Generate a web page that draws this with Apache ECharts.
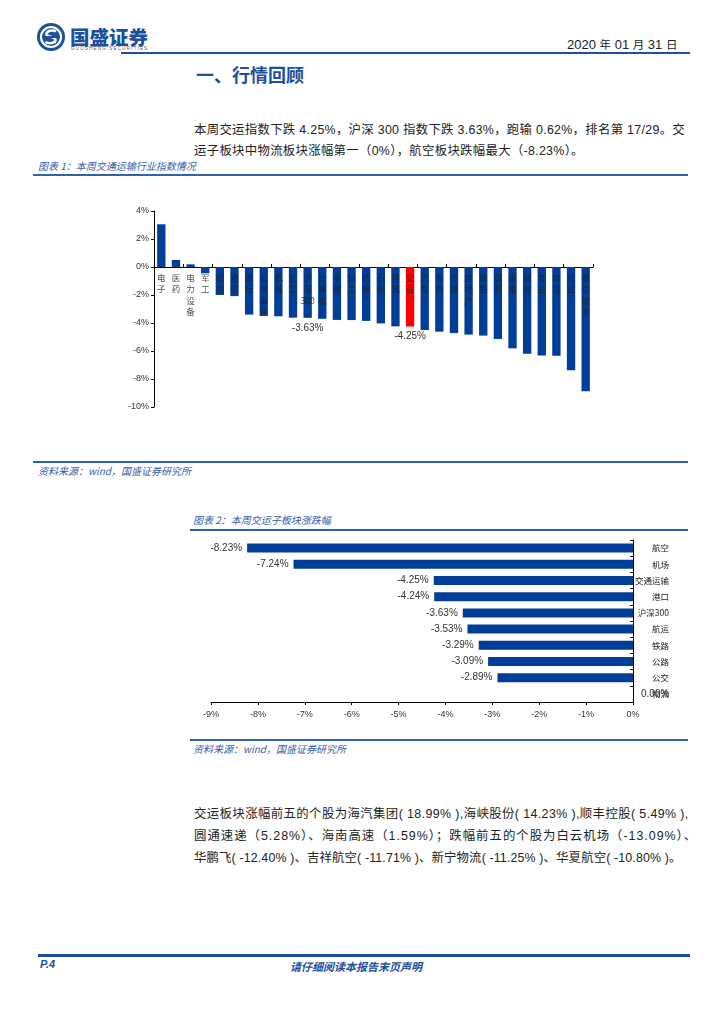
<!DOCTYPE html>
<html>
<head>
<meta charset="utf-8">
<script src="https://cdn.jsdelivr.net/npm/echarts@6/dist/echarts.min.js"></script>
<style>
  html, body { margin: 0; padding: 0; background: #fff; }
  body { width: 724px; height: 1024px; position: relative; overflow: hidden;
         font-family: "Liberation Sans", "Noto Sans CJK SC", sans-serif; color: #222; }
  .abs { position: absolute; white-space: nowrap; }
  .hline { position: absolute; background: #2f63b0; }
  .cap { font-family: "Noto Sans CJK SC", sans-serif; font-style: italic; color: #3660a8; font-size: 10px; }
  .para { font-family: "Liberation Sans", "Noto Sans CJK SC", sans-serif; font-size: 12.4px; color: #222; }
</style>
</head>
<body>
<!-- header -->
<svg class="abs" style="left:36px;top:22px" width="30" height="30" viewBox="0 0 30 30">
  <circle cx="15" cy="15" r="14" fill="#1d4f9e"/>
  <circle cx="15" cy="15" r="10" fill="none" stroke="#fff" stroke-width="2.2"/>
  <path d="M20 9.5 C17 7.5 10 8.5 10.5 12.5 C11 15.5 19.5 14 19.5 18 C19.5 21.5 12.5 22 9.5 20" fill="none" stroke="#fff" stroke-width="2.6"/>
  <rect x="6" y="14" width="18" height="2" fill="#1d4f9e"/>
</svg>
<div class="abs" style="left:70px;top:22px;font-family:'Noto Sans CJK SC';font-weight:900;font-size:19.5px;color:#1d4f9e;">国盛证券</div>
<div class="abs" style="left:71px;top:46px;font-size:4.5px;color:#555;letter-spacing:1.2px;">GUOSHENG SECURITIES</div>
<div class="abs" style="left:567px;top:36px;font-size:13px;color:#222;font-family:'Liberation Sans','Noto Sans CJK SC';">2020 <span style="font-size:11.5px">年</span> 01 <span style="font-size:11.5px">月</span> 31 <span style="font-size:11.5px">日</span></div>
<div class="hline" style="left:121px;top:52px;width:569px;height:2px;background:#1d4f9e;"></div>
<div class="abs" style="left:196px;top:61px;font-family:'Noto Sans CJK SC';font-weight:700;font-size:18px;color:#1d4f9e;">一、行情回顾</div>

<!-- paragraph 1 -->
<div class="abs para" style="left:194px;top:120px;letter-spacing:0.3px;">本周交运指数下跌 4.25%，沪深 300 指数下跌 3.63%，跑输 0.62%，排名第 17/29。交</div>
<div class="abs para" style="left:194px;top:141px;letter-spacing:0.3px;">运子板块中物流板块涨幅第一（0%），航空板块跌幅最大（-8.23%）。</div>

<div class="abs cap" style="left:38px;top:158px;">图表 1：本周交通运输行业指数情况</div>
<div class="hline" style="left:33px;top:174px;width:655px;height:1.5px;"></div>

<div id="c1" class="abs" style="left:0;top:190px;width:724px;height:240px;"></div>

<div class="hline" style="left:33px;top:461px;width:655px;height:1.5px;"></div>
<div class="abs cap" style="left:38px;top:463px;">资料来源：wind，国盛证券研究所</div>

<div class="abs cap" style="left:193px;top:512px;">图表 2：本周交运子板块涨跌幅</div>
<div class="hline" style="left:190px;top:529px;width:498px;height:1.5px;"></div>

<div id="c2" class="abs" style="left:0;top:530px;width:724px;height:200px;"></div>

<div class="hline" style="left:190px;top:739px;width:498px;height:1.5px;"></div>
<div class="abs cap" style="left:193px;top:741px;">资料来源：wind，国盛证券研究所</div>

<!-- paragraph 2 -->
<div class="abs para" style="left:194px;top:804px;letter-spacing:0.4px;">交运板块涨幅前五的个股为海汽集团( 18.99% ),海峡股份( 14.23% ),顺丰控股( 5.49% ),</div>
<div class="abs para" style="left:194px;top:826px;letter-spacing:1.0px;">圆通速递（5.28%）、海南高速（1.59%）；跌幅前五的个股为白云机场（-13.09%）、</div>
<div class="abs para" style="left:194px;top:848px;letter-spacing:0.14px;">华鹏飞( -12.40% )、吉祥航空( -11.71% )、新宁物流( -11.25% )、华夏航空( -10.80% )。</div>

<!-- footer -->
<div class="hline" style="left:38px;top:954px;width:652px;height:2.5px;background:#1d4f9e;"></div>
<div class="abs" style="left:40px;top:958px;font-weight:700;font-style:italic;font-size:11px;color:#1d4f9e;">P.4</div>
<div class="abs" style="left:290px;top:958px;font-family:'Noto Sans CJK SC';font-weight:700;font-style:italic;font-size:11px;color:#1d4f9e;">请仔细阅读本报告末页声明</div>

<script>
// ---- Chart 1 data ----
var cats1 = ['电子','医药','电力设备','军工','综合','通信','银行','公用事业','机械','化工','沪深300','计算机','非银','轻工','纺服','石化','建筑','交运','汽车','有色','传媒','房地产','钢铁','煤炭','家电','建材','食品','商贸','农业','餐饮旅游'];
var vals1 = [3.05,0.50,0.19,-0.45,-2.00,-2.08,-3.40,-3.48,-3.52,-3.62,-3.63,-3.70,-3.78,-3.79,-3.85,-4.03,-4.24,-4.25,-4.50,-4.62,-4.72,-4.83,-4.90,-5.14,-5.81,-6.19,-6.33,-6.34,-7.38,-8.88];
var highlight1 = '交运';
var labeled1 = ['沪深300','交运'];
var ticks1 = ['4%','2%','0%','-2%','-4%','-6%','-8%','-10%'];

// ---- Chart 2 data ----
var cats2 = ['航空','机场','交通运输','港口','沪深300','航运','铁路','公路','公交','物流'];
var vals2 = [-8.23,-7.24,-4.25,-4.24,-3.63,-3.53,-3.29,-3.09,-2.89,0.00];
var ticks2 = ['-9%','-8%','-7%','-6%','-5%','-4%','-3%','-2%','-1%','0%'];

var BLUE = '#003e98';
var RED = '#ff0000';
var cjk = 'Noto Sans CJK SC';

function vert(name) {
  var toks = name.match(/[0-9]+|./g);
  return toks.join('\n');
}

var c1 = echarts.init(document.getElementById('c1'), null, {renderer: 'canvas'});
c1.setOption({
  animation: false,
  grid: {left: 154, right: 131, top: 21, bottom: 23, containLabel: false, outerBoundsMode: 'none'},
  xAxis: {
    type: 'category', data: cats1,
    axisLine: {onZero: true, lineStyle: {color: '#000', width: 1}},
    axisTick: {show: true, inside: true, length: 3, interval: 1, lineStyle: {color: '#000'}},
    axisLabel: {show: false}
  },
  yAxis: {
    type: 'value', min: -10, max: 4, interval: 2,
    axisLine: {show: true, lineStyle: {color: '#000'}},
    axisTick: {show: true, length: 3, lineStyle: {color: '#000'}},
    splitLine: {show: false},
    axisLabel: {color: '#333', fontSize: 9, margin: 5, fontFamily: 'Liberation Sans',
      formatter: function (v) { return ticks1[(4 - v) / 2]; }}
  },
  series: [{
    type: 'bar', barWidth: '57%',
    data: vals1.map(function (v, i) {
      var item = {value: v, itemStyle: {color: cats1[i] === highlight1 ? RED : BLUE}};
      if (labeled1.indexOf(cats1[i]) >= 0) {
        item.label = {show: true, position: 'bottom', distance: 5, color: '#333', fontSize: 10,
          fontFamily: 'Liberation Sans', formatter: function (p) { return p.value.toFixed(2) + '%'; }};
      }
      return item;
    })
  }, {
    // category names drawn at the zero line (as in the original chart)
    type: 'scatter', symbolSize: 0, silent: true, z: 5,
    data: cats1.map(function () { return 0; }),
    label: {show: true, position: 'bottom', distance: 5, color: '#222', fontFamily: cjk, fontSize: 8.5,
      lineHeight: 11.5, align: 'center', verticalAlign: 'top',
      formatter: function (p) { return vert(cats1[p.dataIndex]); }}
  }]
});

var c2 = echarts.init(document.getElementById('c2'), null, {renderer: 'canvas'});
c2.setOption({
  animation: false,
  grid: {left: 211, right: 91, top: 10, bottom: 28, containLabel: false, outerBoundsMode: 'none'},
  xAxis: {
    type: 'value', min: -9, max: 0, interval: 1,
    axisLine: {show: true, onZero: false, lineStyle: {color: '#000'}},
    axisTick: {show: true, length: 3, lineStyle: {color: '#000'}},
    splitLine: {show: false},
    axisLabel: {color: '#333', fontSize: 9, margin: 8, fontFamily: 'Liberation Sans',
      formatter: function (v) { return ticks2[v + 9]; }}
  },
  yAxis: {
    type: 'category', data: cats2, inverse: true, position: 'right',
    axisLine: {show: true, onZero: false, lineStyle: {color: '#000'}},
    axisTick: {show: true, inside: true, length: 3, lineStyle: {color: '#000'}},
    axisLabel: {interval: 0, color: '#222', fontFamily: cjk, fontSize: 8.5, align: 'right', margin: 36}
  },
  series: [{
    type: 'bar', barWidth: 9,
    itemStyle: {color: BLUE},
    label: {show: true, position: 'left', distance: 5, color: '#333', fontSize: 10, fontFamily: 'Liberation Sans',
      formatter: function (p) { return p.value.toFixed(2) + '%'; }},
    data: vals2.map(function (v) {
      var item = {value: v};
      if (v === 0) item.label = {position: 'right', distance: 8};
      return item;
    })
  }]
});
</script>
</body>
</html>
